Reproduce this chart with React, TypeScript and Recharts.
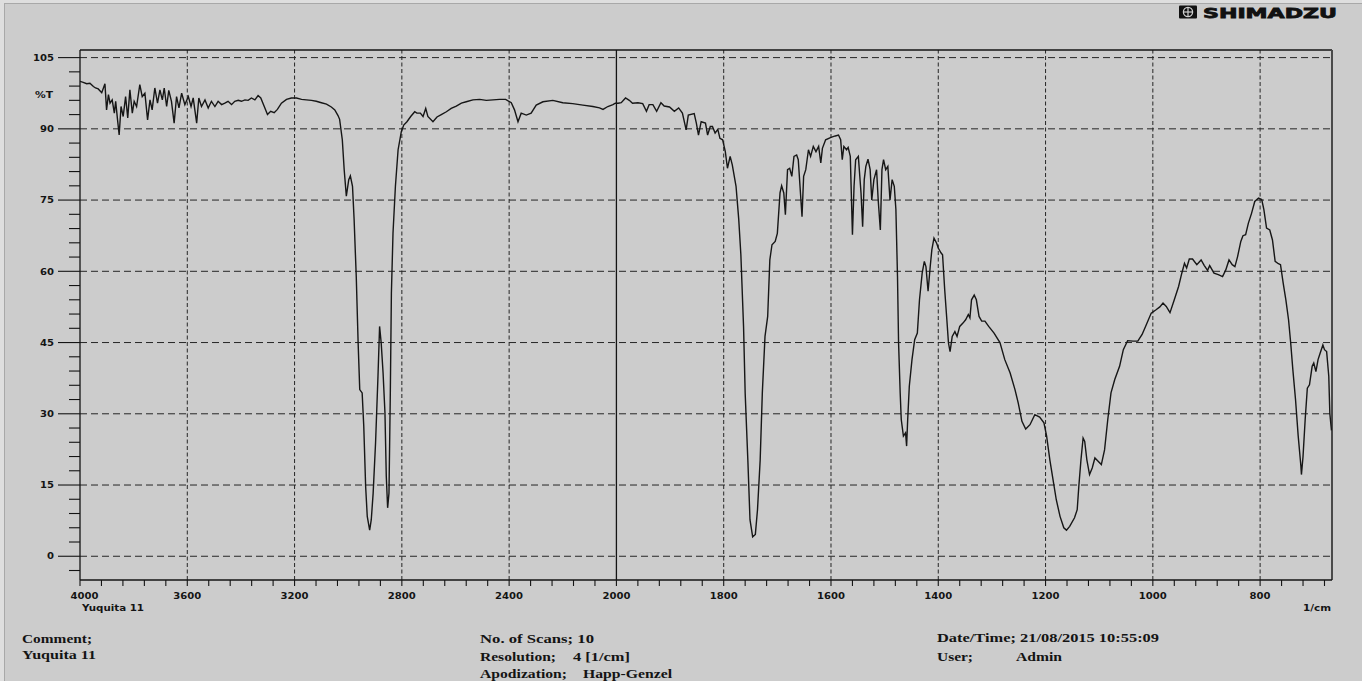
import React from 'react';
import { LineChart, Line, XAxis, YAxis, ReferenceLine } from 'recharts';

// FTIR transmittance spectrum, sample "Yuquita 11" — [wavenumber (1/cm), %T]
const SPECTRUM_4000_2000: [number, number][] = [
  [4000, 100.0], [3988, 99.8], [3975, 99.5], [3963, 99.6], [3950, 98.9], [3942, 98.6], [3932, 98.4], [3919, 97.6],
  [3907, 99.5], [3901, 94.0], [3894, 97.2], [3888, 95.4], [3880, 96.1], [3872, 93.3], [3867, 95.8], [3860, 91.9],
  [3854, 88.7], [3847, 94.7], [3839, 92.6], [3830, 96.8], [3822, 92.3], [3814, 98.2], [3805, 93.3], [3798, 95.8],
  [3789, 94.7], [3777, 99.3], [3768, 96.8], [3758, 97.5], [3748, 91.9], [3739, 96.1], [3731, 94.0], [3721, 98.6],
  [3711, 95.4], [3702, 98.2], [3693, 96.1], [3686, 98.6], [3677, 94.7], [3669, 98.1], [3659, 95.8], [3649, 91.2],
  [3640, 96.8], [3631, 94.4], [3621, 97.5], [3609, 95.1], [3596, 96.8], [3586, 94.7], [3578, 96.5], [3565, 91.2],
  [3557, 96.5], [3547, 94.7], [3534, 96.1], [3522, 94.4], [3510, 95.8], [3497, 94.7], [3485, 95.8], [3472, 95.1],
  [3460, 95.4], [3448, 95.8], [3435, 95.1], [3423, 95.8], [3410, 96.0], [3398, 95.8], [3385, 96.1], [3373, 96.0],
  [3361, 96.5], [3348, 96.1], [3336, 97.0], [3326, 96.5], [3313, 94.7], [3301, 93.0], [3289, 93.7], [3276, 93.4],
  [3264, 94.1], [3249, 95.4], [3230, 96.2], [3212, 96.5], [3193, 96.5], [3174, 96.2], [3156, 96.1], [3137, 96.0],
  [3119, 95.8], [3100, 95.5], [3081, 95.2], [3063, 94.6], [3050, 94.0], [3038, 92.8], [3032, 92.0], [3022, 87.7],
  [3015, 81.4], [3007, 75.8], [2998, 79.3], [2992, 80.1], [2984, 77.9], [2978, 70.9], [2970, 58.9], [2963, 44.9],
  [2957, 35.1], [2948, 34.4], [2942, 27.4], [2935, 14.7], [2929, 8.4], [2920, 5.5], [2914, 7.7], [2907, 13.3],
  [2898, 23.9], [2889, 37.9], [2883, 48.4], [2877, 44.9], [2870, 38.6], [2863, 30.2], [2858, 16.8], [2853, 10.2],
  [2848, 13.3], [2843, 34.4], [2839, 55.4], [2833, 68.0], [2824, 77.9], [2814, 85.6], [2802, 89.4], [2793, 90.8],
  [2781, 91.5], [2767, 92.6], [2752, 93.6], [2744, 93.3], [2731, 93.3], [2721, 92.6], [2711, 94.3], [2703, 92.6],
  [2684, 91.5], [2669, 92.5], [2653, 93.0], [2634, 93.6], [2616, 94.3], [2597, 94.8], [2578, 95.4], [2560, 95.7],
  [2535, 96.1], [2510, 96.2], [2485, 96.0], [2460, 96.1], [2436, 96.2], [2413, 96.2], [2392, 95.5], [2380, 94.0],
  [2367, 91.5], [2355, 93.3], [2336, 92.9], [2318, 93.3], [2299, 95.0], [2274, 95.7], [2237, 96.0], [2200, 95.5],
  [2163, 95.3], [2125, 95.0], [2088, 94.7], [2063, 94.4], [2050, 94.1], [2032, 94.7], [2013, 95.1], [2004, 95.4],
];

const SPECTRUM_2000_1480: [number, number][] = [
  [1997, 95.4], [1991, 95.5], [1983, 96.5], [1976, 96.0], [1970, 95.4], [1960, 95.5], [1951, 95.3], [1944, 93.7],
  [1939, 95.1], [1932, 95.1], [1925, 93.7], [1917, 95.5], [1911, 94.8], [1901, 94.6], [1892, 93.7], [1884, 94.4],
  [1877, 93.3], [1870, 89.8], [1866, 92.9], [1855, 93.2], [1851, 91.2], [1847, 88.7], [1842, 91.5], [1834, 91.2],
  [1830, 88.7], [1825, 90.5], [1821, 90.5], [1816, 89.1], [1811, 89.9], [1807, 88.0], [1802, 87.7], [1797, 85.2],
  [1793, 81.7], [1788, 84.2], [1784, 82.4], [1777, 77.9], [1772, 71.0], [1768, 63.5], [1763, 48.4], [1760, 34.4],
  [1755, 20.3], [1751, 7.7], [1746, 4.1], [1741, 4.6], [1737, 9.8], [1732, 20.3], [1728, 34.4], [1723, 46.3],
  [1718, 50.5], [1714, 62.4], [1710, 65.6], [1704, 66.3], [1700, 68.0], [1695, 76.5], [1692, 78.0], [1688, 76.5],
  [1685, 71.9], [1681, 81.4], [1677, 81.7], [1673, 80.0], [1669, 84.2], [1664, 84.5], [1661, 83.5], [1654, 71.5],
  [1651, 80.0], [1647, 81.4], [1642, 85.6], [1638, 84.2], [1633, 86.3], [1628, 85.2], [1623, 86.3], [1619, 82.8],
  [1616, 85.9], [1610, 87.7], [1600, 88.2], [1592, 88.5], [1586, 88.7], [1582, 87.7], [1579, 83.5], [1576, 86.3],
  [1571, 85.6], [1568, 86.1], [1564, 84.2], [1560, 67.7], [1557, 77.9], [1554, 83.5], [1549, 84.2], [1544, 76.5],
  [1541, 69.4], [1538, 79.3], [1535, 82.1], [1531, 83.6], [1527, 81.4], [1524, 75.0], [1520, 79.3], [1515, 81.4],
  [1512, 75.0], [1508, 68.7], [1505, 81.4], [1502, 83.5], [1498, 81.4], [1494, 82.1], [1490, 75.0], [1486, 79.3],
  [1482, 77.9],
];

const SPECTRUM_1480_666: [number, number][] = [
  [1479, 73.0], [1476, 58.9], [1474, 44.9], [1471, 34.4], [1469, 28.8], [1465, 25.3], [1461, 26.0], [1459, 23.2],
  [1457, 28.8], [1454, 35.8], [1449, 41.4], [1444, 45.6], [1439, 47.0], [1435, 54.0], [1430, 59.6], [1426, 62.1],
  [1423, 61.0], [1419, 55.8], [1415, 61.0], [1412, 64.5], [1408, 67.0], [1403, 65.9], [1400, 64.9], [1395, 63.9],
  [1392, 63.5], [1388, 56.1], [1384, 49.8], [1381, 44.9], [1378, 43.1], [1374, 46.3], [1369, 47.3], [1365, 46.3],
  [1360, 48.4], [1354, 49.1], [1349, 49.8], [1344, 50.9], [1341, 50.2], [1338, 54.0], [1333, 55.0], [1329, 54.0],
  [1324, 50.5], [1319, 49.5], [1313, 49.5], [1306, 48.4], [1296, 47.0], [1285, 45.0], [1276, 41.4], [1266, 38.6],
  [1257, 35.1], [1251, 32.3], [1244, 28.4], [1237, 26.8], [1229, 27.7], [1220, 29.8], [1211, 29.3], [1203, 28.1],
  [1198, 25.3], [1192, 20.3], [1186, 16.1], [1180, 11.9], [1173, 8.4], [1166, 6.0], [1161, 5.5], [1155, 6.3],
  [1146, 8.1], [1141, 9.8], [1138, 14.7], [1134, 20.3], [1130, 24.9], [1127, 24.2], [1123, 20.3], [1118, 17.2],
  [1113, 18.6], [1108, 20.7], [1102, 20.0], [1096, 19.3], [1090, 22.4], [1084, 28.8], [1078, 34.4], [1071, 37.2],
  [1062, 40.0], [1055, 43.5], [1047, 45.4], [1037, 45.3], [1028, 45.3], [1020, 46.7], [1012, 48.8], [1003, 51.2],
  [994, 51.9], [987, 52.5], [981, 53.3], [975, 52.6], [968, 51.3], [960, 54.0], [952, 56.8], [946, 59.6],
  [941, 61.7], [937, 60.7], [932, 62.6], [926, 62.6], [918, 61.4], [910, 62.4], [904, 61.2], [898, 60.2],
  [894, 61.2], [886, 59.6], [878, 59.3], [870, 58.9], [864, 60.3], [858, 62.4], [852, 61.4], [847, 61.0],
  [842, 63.1], [836, 66.3], [832, 67.5], [827, 67.7], [822, 70.1], [816, 72.2], [810, 74.7], [803, 75.4],
  [797, 75.1], [793, 73.0], [788, 69.1], [782, 68.7], [777, 66.6], [772, 62.1], [766, 61.6], [762, 61.4],
  [757, 57.5], [752, 54.0], [747, 49.8], [743, 44.9], [739, 39.3], [734, 33.0], [729, 25.3], [724, 19.0],
  [723, 17.2], [720, 21.0], [716, 28.8], [712, 35.4], [708, 36.1], [703, 40.0], [700, 40.7], [696, 38.9],
  [692, 41.4], [688, 42.8], [683, 44.5], [680, 43.5], [676, 43.1], [672, 37.9], [670, 30.0], [667, 26.5],
];

const X_TICK_LABELS = [4000, 3600, 3200, 2800, 2400, 2000, 1800, 1600, 1400, 1200, 1000, 800];
const Y_TICK_LABELS = [0, 15, 30, 45, 60, 75, 90, 105];
const WAVENUMBER_RANGE: [number, number] = [4000, 666];
const T_RANGE: [number, number] = [-5, 106.6];
const SCALE_BREAK = 2000; // abscissa expands 2x below this wavenumber
const X_MINOR_STEP = 40; // axis units between minor ticks
const Y_MINOR_STEP = 3;

const SAMPLE = 'Yuquita 11';
const SCANS = 10;
const RESOLUTION = '4 [1/cm]';
const APODIZATION = 'Happ-Genzel';
const DATE_TIME = '21/08/2015 10:55:09';
const USER = 'Admin';

// Piecewise abscissa: 4000–2000 at half scale, then full scale below 2000.
const toAxis = (wn: number) =>
  wn >= SCALE_BREAK ? (4000 - wn) / 2 : (4000 - SCALE_BREAK) / 2 + (SCALE_BREAK - wn);
const fromAxis = (u: number) =>
  u <= (4000 - SCALE_BREAK) / 2 ? 4000 - 2 * u : SCALE_BREAK - (u - (4000 - SCALE_BREAK) / 2);

const X_MAX = toAxis(WAVENUMBER_RANGE[1]);
const X_MAJOR = X_TICK_LABELS.map(toAxis);
const X_TICKS: number[] = [];
for (let u = 0; u <= X_MAX; u += X_MINOR_STEP) X_TICKS.push(u);
const Y_TICKS: number[] = [];
for (let v = -Y_MINOR_STEP; v <= Y_TICK_LABELS[Y_TICK_LABELS.length - 1]; v += Y_MINOR_STEP) Y_TICKS.push(v);

const ROWS = [...SPECTRUM_4000_2000, ...SPECTRUM_2000_1480, ...SPECTRUM_1480_666].map(([wn, t]) => ({ wn, t }));

const INK = '#141414';
const BG = '#cccccc';
const tickFont = { fontFamily: '"DejaVu Sans", Verdana, sans-serif', fontWeight: 700, fontSize: 9, fill: INK };
const serifFont = {
  fontFamily: '"Liberation Serif", "Times New Roman", serif',
  fontWeight: 700,
  fontSize: 13.5,
  fill: INK,
};

const XTick = (props: any) => {
  const { x, y, payload } = props;
  const u = payload.value;
  const major = X_MAJOR.includes(u);
  const label = String(Math.round(fromAxis(u)));
  return (
    <g>
      <line x1={x} x2={x} y1={y} y2={y + 6} stroke={INK} strokeWidth={1.1} />
      {major && (
        <text
          x={x + (u === 0 ? 4.5 : 0)}
          y={y + 19}
          textAnchor="middle"
          textLength={label.length * 7}
          lengthAdjust="spacingAndGlyphs"
          {...tickFont}
        >
          {label}
        </text>
      )}
    </g>
  );
};

const YTick = (props: any) => {
  const { x, y, payload } = props;
  const v = payload.value;
  const major = Y_TICK_LABELS.includes(v);
  const label = String(v);
  return (
    <g>
      <line x1={x - (major ? 22 : 11)} x2={x} y1={y} y2={y} stroke={INK} strokeWidth={1.1} />
      {major && (
        <text
          x={x - 26}
          y={y + 3.2}
          textAnchor="end"
          textLength={label.length * 7}
          lengthAdjust="spacingAndGlyphs"
          {...tickFont}
        >
          {label}
        </text>
      )}
    </g>
  );
};

const SText = ({ x, y, w, children }: { x: number; y: number; w: number; children: React.ReactNode }) => (
  <text x={x} y={y} textLength={w} lengthAdjust="spacingAndGlyphs" {...serifFont}>
    {children}
  </text>
);

export default function App() {
  return (
    <div style={{ position: 'fixed', left: 0, top: 0, width: 1362, height: 681, background: '#dedede', overflow: 'hidden' }}>
      <div
        style={{
          position: 'absolute',
          left: 4,
          top: 3,
          width: 1358,
          height: 678,
          background: BG,
          borderTop: '1px solid #a8a8a8',
          borderLeft: '1px solid #a8a8a8',
          boxSizing: 'border-box',
        }}
      />
      <div style={{ position: 'absolute', left: 0, top: 0 }}>
        <LineChart width={1362} height={681} data={ROWS} margin={{ top: 50, right: 30, bottom: 71, left: 20 }}>
          <XAxis
            dataKey={(d: any) => toAxis(d.wn)}
            type="number"
            domain={[0, X_MAX]}
            allowDataOverflow
            ticks={X_TICKS}
            interval={0}
            tick={<XTick />}
            tickLine={false}
            tickSize={0}
            tickMargin={0}
            axisLine={{ stroke: INK, strokeWidth: 1.3 }}
            height={30}
          />
          <YAxis
            type="number"
            domain={T_RANGE}
            allowDataOverflow
            ticks={Y_TICKS}
            interval={0}
            tick={<YTick />}
            tickLine={false}
            tickSize={0}
            tickMargin={0}
            axisLine={{ stroke: INK, strokeWidth: 1.3 }}
            width={60}
          />
          {Y_TICK_LABELS.map((v) => (
            <ReferenceLine key={`h${v}`} y={v} stroke="#262626" strokeWidth={1} strokeDasharray="7 4" />
          ))}
          {X_TICK_LABELS.filter((wn) => wn !== WAVENUMBER_RANGE[0] && wn !== SCALE_BREAK).map((wn) => (
            <ReferenceLine key={`v${wn}`} x={toAxis(wn)} stroke="#262626" strokeWidth={1} strokeDasharray="4 2.5" />
          ))}
          <ReferenceLine x={toAxis(SCALE_BREAK)} stroke={INK} strokeWidth={1.3} />
          <ReferenceLine y={T_RANGE[1]} stroke={INK} strokeWidth={1.3} ifOverflow="visible" />
          <ReferenceLine x={X_MAX} stroke="#4a4a4a" strokeWidth={2} ifOverflow="visible" />
          <Line
            type="linear"
            dataKey="t"
            stroke="#161616"
            strokeWidth={1.4}
            dot={false}
            activeDot={false}
            isAnimationActive={false}
          />
        </LineChart>
      </div>
      <svg width={1362} height={681} style={{ position: 'absolute', left: 0, top: 0, pointerEvents: 'none' }}>
        {/* brand mark */}
        <rect x={1179} y={5.5} width={18} height={13} rx={1} fill="#111" />
        <circle cx={1188} cy={12} r={4.6} fill="none" stroke="#d0d0d0" strokeWidth={1.3} />
        <line x1={1183.4} x2={1192.6} y1={12} y2={12} stroke="#d0d0d0" strokeWidth={1.2} />
        <line x1={1188} x2={1188} y1={7.4} y2={16.6} stroke="#d0d0d0" strokeWidth={1.2} />
        <text
          x={1203}
          y={17.5}
          textLength={134}
          lengthAdjust="spacingAndGlyphs"
          fontFamily='"DejaVu Sans", sans-serif'
          fontWeight={700}
          fontSize={14}
          fill="#111"
          stroke="#111"
          strokeWidth={0.8}
        >
          SHIMADZU
        </text>

        {/* axis titles */}
        <text x={35} y={97.5} textLength={18} lengthAdjust="spacingAndGlyphs" {...tickFont}>%T</text>
        <text x={82} y={611} textLength={62} lengthAdjust="spacingAndGlyphs" {...tickFont}>{SAMPLE}</text>
        <text x={1303} y={611} textLength={28} lengthAdjust="spacingAndGlyphs" {...tickFont}>1/cm</text>

        {/* measurement info */}
        <SText x={22} y={643} w={70}>Comment;</SText>
        <SText x={22} y={659} w={74}>{SAMPLE}</SText>

        <SText x={480} y={643} w={114}>{`No. of Scans; ${SCANS}`}</SText>
        <SText x={480} y={661} w={76}>Resolution;</SText>
        <SText x={573} y={661} w={57}>{RESOLUTION}</SText>
        <SText x={480} y={678} w={87}>Apodization;</SText>
        <SText x={583} y={678} w={89}>{APODIZATION}</SText>

        <SText x={937} y={642} w={222}>{`Date/Time; ${DATE_TIME}`}</SText>
        <SText x={937} y={661} w={36}>User;</SText>
        <SText x={1016} y={661} w={46}>{USER}</SText>
      </svg>
    </div>
  );
}
